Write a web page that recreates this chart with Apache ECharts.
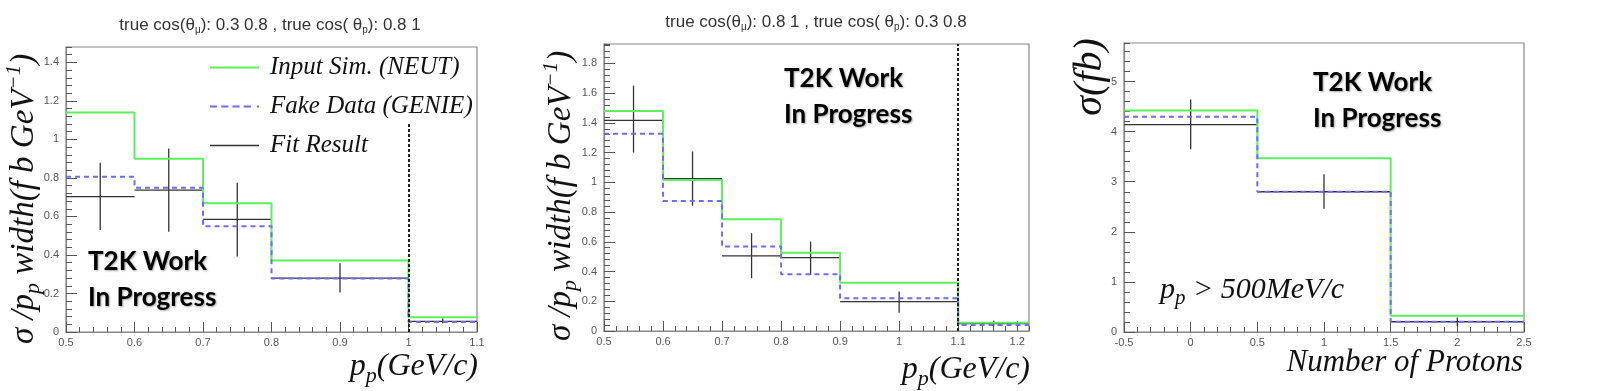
<!DOCTYPE html>
<html>
<head>
<meta charset="utf-8">
<script src="https://cdn.jsdelivr.net/npm/echarts@6/dist/echarts.min.js"></script>
<style>
html, body { margin: 0; padding: 0; background: #fff; }
#chart { width: 1612px; height: 391px; }
</style>
</head>
<body>
<div id="chart"></div>
<script>
// panel 1 : true cos(theta_mu) 0.3-0.8, true cos(theta_p) 0.8-1
const edges1 = [0.5, 0.6, 0.7, 0.8, 1.0, 1.1];
const neut1 = [1.14, 0.90, 0.668, 0.371, 0.076];
const genie1 = [0.806, 0.749, 0.549, 0.278, 0.052];
const fit1 = [0.703, 0.737, 0.585, 0.28, 0.055];
const fitLo1 = [0.53, 0.521, 0.392, 0.205, 0.045];
const fitHi1 = [0.879, 0.953, 0.775, 0.357, 0.072];
const cut1 = 1.0;
const cut1Top = 1.09;

// panel 2 : true cos(theta_mu) 0.8-1, true cos(theta_p) 0.3-0.8
const edges2 = [0.5, 0.6, 0.7, 0.8, 0.9, 1.1, 1.22];
const neut2 = [1.48, 1.015, 0.752, 0.527, 0.325, 0.056];
const genie2 = [1.327, 0.875, 0.568, 0.382, 0.22, 0.04];
const fit2 = [1.416, 1.024, 0.505, 0.494, 0.197, 0.05];
const fitLo2 = [1.20, 0.842, 0.355, 0.377, 0.123, 0.03];
const fitHi2 = [1.65, 1.207, 0.658, 0.601, 0.265, 0.07];
const cut2 = 1.1;

// panel 3 : number of protons
const edges3 = [-0.5, 0.5, 1.5, 2.5];
const neut3 = [4.42, 3.47, 0.325];
const genie3 = [4.30, 2.80, 0.205];
const fit3 = [4.14, 2.80, 0.205];
const fitLo3 = [3.65, 2.46, 0.12];
const fitHi3 = [4.64, 3.15, 0.29];

const neutName = 'Input Sim. (NEUT)';
const genieName = 'Fake Data (GENIE)';
const fitName = 'Fit Result';

const neutColor = '#5cf05c';
const genieColor = '#6b6bff';
const fitColor = '#333';
const frameColor = '#888';
const tickColor = '#555';

let myChart = echarts.init(document.getElementById('chart'));

// step histogram -> points for a step:'end' line
function stepData(edges, vals) {
    const d = vals.map((v, i) => [edges[i], v]);
    d.push([edges[edges.length - 1], vals[vals.length - 1]]);
    return d;
}

function fitData(edges, vals, lo, hi) {
    return vals.map((v, i) => [edges[i], edges[i + 1], v, lo[i], hi[i]]);
}

function fitRender(params, api) {
    const x0 = api.value(0), x1 = api.value(1), v = api.value(2);
    const mid = (x0 + x1) / 2;
    const a = api.coord([x0, v]), b = api.coord([x1, v]);
    const c = api.coord([mid, api.value(3)]), d = api.coord([mid, api.value(4)]);
    const style = { stroke: fitColor, lineWidth: 1.3 };
    return {
        type: 'group',
        children: [
            { type: 'line', shape: { x1: a[0], y1: a[1], x2: b[0], y2: b[1] }, style: style },
            { type: 'line', shape: { x1: c[0], y1: c[1], x2: d[0], y2: d[1] }, style: style }
        ]
    };
}

function majorAxis(dim, grid, min, max, step, showMax) {
    const isX = dim === 'x';
    return {
        type: 'value', gridIndex: grid, position: isX ? 'bottom' : 'left',
        min: min, max: max, interval: step,
        axisLine: { show: true, onZero: false, lineStyle: { color: frameColor, width: 1.2 } },
        axisTick: { inside: true, length: isX ? 10 : 11, lineStyle: { color: tickColor } },
        axisLabel: {
            margin: isX ? 5 : 7, showMaxLabel: showMax,
            color: '#555', fontFamily: 'Liberation Sans', fontSize: 11
        },
        splitLine: { show: false }
    };
}

function minorAxis(dim, grid, min, max, step) {
    const isX = dim === 'x';
    return {
        type: 'value', gridIndex: grid, position: isX ? 'bottom' : 'left',
        min: min, max: max, interval: step,
        axisLine: { show: false, onZero: false },
        axisTick: { inside: true, length: isX ? 5 : 6, lineStyle: { color: tickColor } },
        axisLabel: { show: false },
        splitLine: { show: false }
    };
}

function histSeries(name, grid, edges, vals, color, dashed) {
    return {
        name: name, type: 'line', xAxisIndex: grid * 2, yAxisIndex: grid * 2,
        step: 'end', symbol: 'none', showSymbol: false,
        data: stepData(edges, vals),
        lineStyle: { color: color, width: 2, type: dashed ? [5, 4] : 'solid' },
        itemStyle: { color: color },
        z: dashed ? 4 : 3
    };
}

function fitSeries(grid, edges, vals, lo, hi) {
    return {
        name: fitName, type: 'custom', xAxisIndex: grid * 2, yAxisIndex: grid * 2,
        renderItem: fitRender,
        encode: { x: [0, 1], y: [2, 3, 4] },
        itemStyle: { color: fitColor },
        data: fitData(edges, vals, lo, hi),
        z: 2
    };
}

const serif = 'Liberation Serif';
function it(size) {
    return { fontFamily: serif, fontStyle: 'italic', fontSize: size, fill: '#111', lineHeight: size + 8 };
}
function sub(size, lh) {
    return { fontFamily: serif, fontStyle: 'italic', fontSize: size, fill: '#111', lineHeight: lh, verticalAlign: 'bottom' };
}
function sup(size) {
    return { fontFamily: serif, fontStyle: 'italic', fontSize: size, fill: '#111', lineHeight: 10, verticalAlign: 'top' };
}

const yName = '{i|σ /p}{s|p}{i| width(f b GeV}{u|−1}{i|)}';
const yRich = { i: it(33), s: sub(22, 20), u: sup(21) };
const xName = '{i|p}{s|p}{i|(GeV/c)}';
const xRich = { i: it(32), s: sub(22, 14) };

function titleText(x, y, text) {
    const base = { fontFamily: 'Liberation Sans', fontSize: 17, fill: '#333', lineHeight: 20 };
    return {
        type: 'text', x: x, y: y,
        style: {
            text: text, align: 'center', verticalAlign: 'middle',
            rich: {
                t: base,
                s: { fontFamily: 'Liberation Sans', fontSize: 10, fill: '#333', lineHeight: 8, verticalAlign: 'bottom' }
            }
        }
    };
}

function wipText(x, y) {
    return {
        type: 'text', x: x, y: y,
        style: {
            text: 'T2K Work\nIn Progress', align: 'left', verticalAlign: 'middle',
            fontFamily: 'Lato', fontWeight: 'bold', fontSize: 26, lineHeight: 36, fill: '#000',
            textShadowColor: 'rgba(0,0,0,0.35)', textShadowBlur: 2, textShadowOffsetX: 1, textShadowOffsetY: 1
        }
    };
}

function richText(x, y, text, rich, align, rot) {
    return {
        type: 'text', x: x, y: y, rotation: rot || 0,
        style: { text: text, rich: rich, align: align, verticalAlign: 'middle' }
    };
}

const solidIcon = 'path://M0 0H50V2H0Z';
const dashIcon = 'path://M0 0H7V2H0Z M11 0H18V2H11Z M22 0H29V2H22Z M33 0H40V2H33Z M46 0H48V2H46Z';
const fitIcon = 'path://M0 0H50V1.4H0Z';

const option = {
    animation: false,
    backgroundColor: '#fff',
    legend: {
        left: 210, top: 55, orient: 'vertical', padding: 0,
        itemWidth: 49, itemHeight: 14, itemGap: 14,
        textStyle: {
            fontFamily: serif, fontStyle: 'italic', fontSize: 25, color: '#111',
            lineHeight: 24, padding: [0, 0, 0, 6]
        },
        data: [
            { name: neutName, icon: solidIcon },
            { name: genieName, icon: dashIcon },
            { name: fitName, icon: fitIcon }
        ]
    },
    grid: [
        { left: 66, top: 47, width: 411, height: 285, show: true, borderColor: frameColor, borderWidth: 1.2, outerBoundsMode: 'none' },
        { left: 604, top: 44, width: 425, height: 287, show: true, borderColor: frameColor, borderWidth: 1.2, outerBoundsMode: 'none' },
        { left: 1124, top: 43, width: 400, height: 289, show: true, borderColor: frameColor, borderWidth: 1.2, outerBoundsMode: 'none' }
    ],
    xAxis: [
        majorAxis('x', 0, 0.5, 1.1, 0.1, true), minorAxis('x', 0, 0.5, 1.1, 0.02),
        majorAxis('x', 1, 0.5, 1.22, 0.1, false), minorAxis('x', 1, 0.5, 1.22, 0.02),
        majorAxis('x', 2, -0.5, 2.5, 0.5, true), minorAxis('x', 2, -0.5, 2.5, 0.1)
    ],
    yAxis: [
        majorAxis('y', 0, 0, 1.48, 0.2, false), minorAxis('y', 0, 0, 1.48, 0.04),
        majorAxis('y', 1, 0, 1.93, 0.2, false), minorAxis('y', 1, 0, 1.93, 0.04),
        majorAxis('y', 2, 0, 5.77, 1, false), minorAxis('y', 2, 0, 5.77, 0.2)
    ],
    series: [
        fitSeries(0, edges1, fit1, fitLo1, fitHi1),
        histSeries(neutName, 0, edges1, neut1, neutColor, false),
        Object.assign(histSeries(genieName, 0, edges1, genie1, genieColor, true), {
            markLine: {
                silent: true, symbol: 'none', label: { show: false },
                lineStyle: { color: '#222', width: 2, type: [3, 2] },
                data: [[{ coord: [cut1, 0] }, { coord: [cut1, cut1Top] }]]
            }
        }),
        fitSeries(1, edges2, fit2, fitLo2, fitHi2),
        histSeries(neutName, 1, edges2, neut2, neutColor, false),
        Object.assign(histSeries(genieName, 1, edges2, genie2, genieColor, true), {
            markLine: {
                silent: true, symbol: 'none', label: { show: false },
                lineStyle: { color: '#222', width: 2, type: [3, 2] },
                data: [{ xAxis: cut2 }]
            }
        }),
        fitSeries(2, edges3, fit3, fitLo3, fitHi3),
        histSeries(neutName, 2, edges3, neut3, neutColor, false),
        histSeries(genieName, 2, edges3, genie3, genieColor, true)
    ],
    graphic: [
        titleText(270, 25, '{t|true cos(θ}{s|μ}{t|): 0.3 0.8 , true cos( θ}{s|p}{t|): 0.8 1}'),
        titleText(816, 22, '{t|true cos(θ}{s|μ}{t|): 0.8 1 , true cos( θ}{s|p}{t|): 0.3 0.8}'),
        wipText(88, 280),
        wipText(784, 97),
        wipText(1313, 101),
        richText(24, 199, yName, yRich, 'center', Math.PI / 2),
        richText(561, 196, yName, yRich, 'center', Math.PI / 2),
        richText(1090, 77, '{i|σ(fb)}', { i: it(40) }, 'center', Math.PI / 2),
        richText(478, 367, xName, xRich, 'right'),
        richText(1030, 370, xName, xRich, 'right'),
        richText(1523, 363, '{i|Number of Protons}', { i: it(31) }, 'right'),
        richText(1160, 290, '{i|p}{s|p}{i| > 500MeV/c}', { i: it(30), s: sub(21, 14) }, 'left')
    ]
};

myChart.setOption(option);
</script>
</body>
</html>
